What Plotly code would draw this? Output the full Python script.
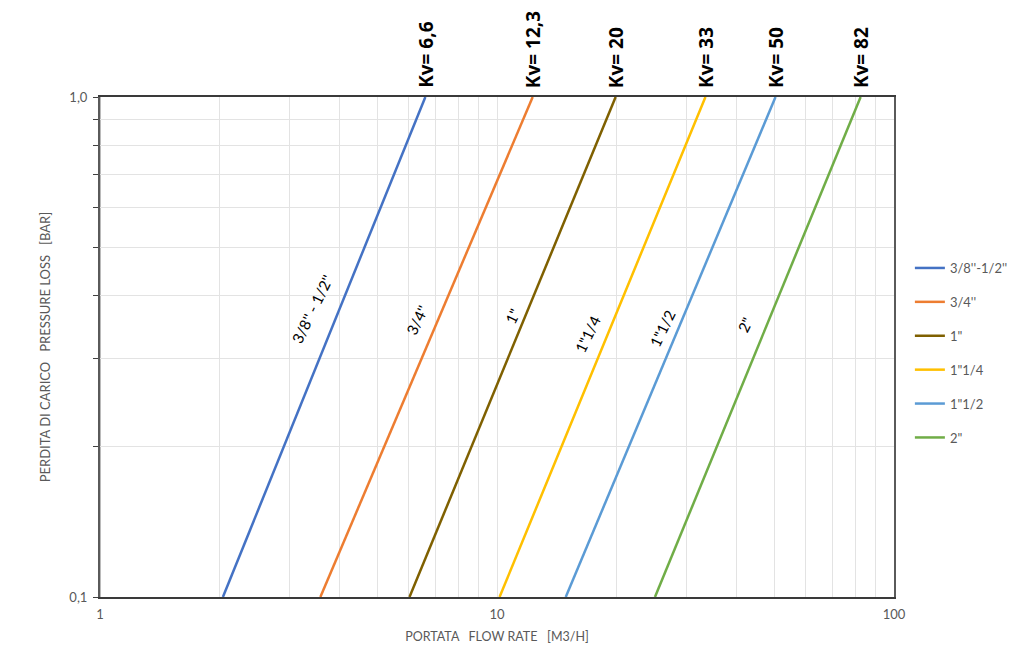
import numpy as np
import plotly.graph_objects as go

# ---- data ----
series_names = ["3/8''-1/2''", "3/4''", '1"', '1"1/4', '1"1/2', '2"']
line_labels = ["3/8'' - 1/2''", "3/4''", '1"', '1"1/4', '1"1/2', '2"']
kv_labels = ["Kv= 6,6", "Kv= 12,3", "Kv= 20", "Kv= 33", "Kv= 50", "Kv= 82"]
pressure_loss = [0.1, 1.0]                      # bar
flow_low = [2.04, 3.59, 6.02, 10.15, 14.9, 25.0]  # m3/h at 0.1 bar
flow_high = [6.6, 12.3, 19.9, 33.5, 50.3, 82.4]   # m3/h at 1.0 bar
label_x = [3.42, 6.29, 10.93, 16.9, 26.1, 42.1]
label_y = [0.377, 0.358, 0.365, 0.336, 0.345, 0.350]
colors = ["#4472C4", "#ED7D31", "#7F6000", "#FFC000", "#5B9BD5", "#70AD47"]

x_tickvals = [1, 2, 3, 4, 5, 6, 7, 8, 9, 10, 20, 30, 40, 50, 60, 70, 80, 90, 100]
x_ticktext = ["1", "", "", "", "", "", "", "", "", "10", "", "", "", "", "", "", "", "", "100"]
y_tickvals = [0.1, 0.2, 0.3, 0.4, 0.5, 0.6, 0.7, 0.8, 0.9, 1.0]
y_ticktext = ["0,1", "", "", "", "", "", "", "", "", "1,0"]

FONT = "Lato"

fig = go.Figure()
for i, name in enumerate(series_names):
    fig.add_trace(go.Scatter(
        x=[flow_low[i], flow_high[i]], y=pressure_loss, mode="lines",
        name=name, line=dict(color=colors[i], width=2.5),
        legendgroup=f"g{i}",
    ))

# darker vertical line at 10
fig.add_shape(type="line", xref="x", yref="paper", x0=1, x1=1, y0=0, y1=1,
              line=dict(color="#8C8C8C", width=1.2), layer="below")

for i in range(len(series_names)):
    fig.add_annotation(x=np.log10(label_x[i]), y=np.log10(label_y[i]), xref="x", yref="y",
                       text=line_labels[i], showarrow=False, textangle=-64,
                       font=dict(family=FONT, size=15, color="#000000"))
    fig.add_annotation(x=np.log10(flow_high[i]), y=1, xref="x", yref="paper",
                       text=kv_labels[i], showarrow=False, textangle=-90,
                       xanchor="center", yanchor="bottom", yshift=7,
                       font=dict(family="Open Sans", size=19, color="#000000", weight="bold"))

fig.update_xaxes(type="log", range=[0, 2], tickvals=x_tickvals, ticktext=x_ticktext,
                 automargin=False,
                 showgrid=True, gridcolor="#E3E3E3", gridwidth=1,
                 showline=True, linecolor="#3A3A3A", linewidth=1.5, mirror=True,
                 ticks="", zeroline=False, ticklabelstandoff=5,
                 tickfont=dict(family=FONT, size=13, color="#595959"),
                 title=dict(text="PORTATA   FLOW RATE   [M3/H]", standoff=11,
                            font=dict(family=FONT, size=12.5, color="#595959")))
fig.update_yaxes(type="log", range=[-1, 0], tickvals=y_tickvals, ticktext=y_ticktext,
                 automargin=False,
                 showgrid=True, gridcolor="#E3E3E3", gridwidth=1,
                 showline=True, linecolor="#5A5A5A", linewidth=2, mirror=True,
                 ticks="outside", ticklen=5, tickcolor="#404040",
                 zeroline=False, ticklabelstandoff=3,
                 tickfont=dict(family=FONT, size=13, color="#595959"),
                 title=dict(text="PERDITA DI CARICO   PRESSURE LOSS   [BAR]", standoff=16,
                            font=dict(family=FONT, size=13, color="#595959")))

fig.update_layout(
    width=1024, height=656,
    margin=dict(l=92, r=138, t=89, b=67),
    plot_bgcolor="white", paper_bgcolor="white",
    font=dict(family=FONT),
    legend=dict(x=1.02, y=0.688, xanchor="left", yanchor="top",
                tracegroupgap=14, font=dict(family=FONT, size=13, color="#595959"),
                bgcolor="rgba(0,0,0,0)"),
)
fig.write_html("out.html")
